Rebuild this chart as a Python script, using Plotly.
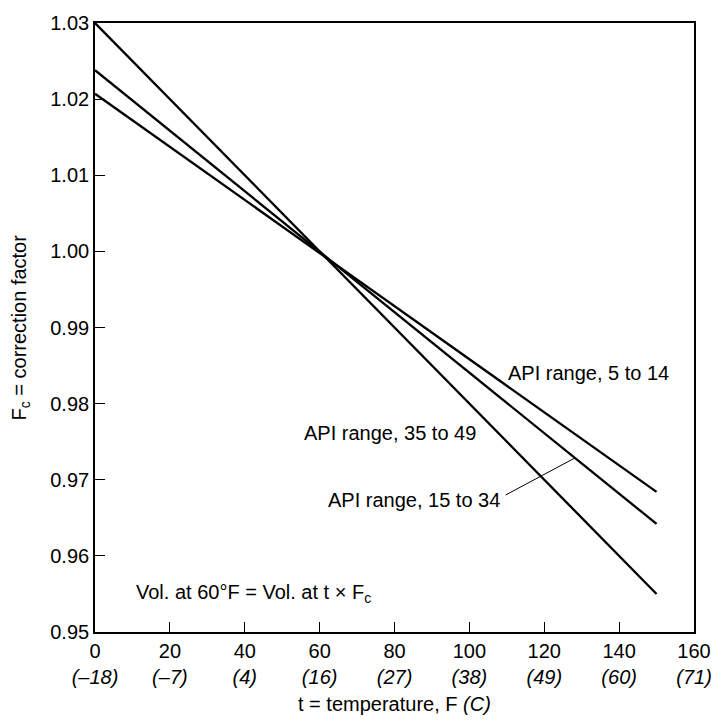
import numpy as np
import plotly.graph_objects as go

# temperature, F (line end points)
temp_f = [0, 150]

# correction factor Fc at each end
fc_api_35_49 = [1.030, 0.955]
fc_api_15_34 = [1.0238, 0.9642]
fc_api_5_14 = [1.0207, 0.9684]

x_ticks = [0, 20, 40, 60, 80, 100, 120, 140, 160]
x_ticks_c = ["–18", "–7", "4", "16", "27", "38", "49", "60", "71"]
y_ticks = [0.95, 0.96, 0.97, 0.98, 0.99, 1.00, 1.01, 1.02, 1.03]

FONT = "Liberation Sans, Arial, Helvetica, sans-serif"
FS = 20
line_style = dict(color="black", width=2.3)

fig = go.Figure()
for ys in (fc_api_35_49, fc_api_15_34, fc_api_5_14):
    fig.add_trace(go.Scatter(x=temp_f, y=ys, mode="lines", line=line_style,
                             showlegend=False, hoverinfo="skip"))

labels = [
    ("API range, 5 to 14", 109.7, 0.984),
    ("API range, 35 to 49", 55.3, 0.9762),
    ("API range, 15 to 34", 61.6, 0.9673),
    ("Vol. at 60°F = Vol. at t × F<sub>c</sub>", 10.5, 0.955),
]
for txt, lx, ly in labels:
    fig.add_annotation(x=lx, y=ly, text=txt, showarrow=False,
                       xanchor="left", yanchor="middle",
                       font=dict(size=FS, color="black", family=FONT))

# leader from "15 to 34" label to its line
lead_x = 128.2
lead_y = float(np.interp(lead_x, temp_f, fc_api_15_34))
fig.add_shape(type="line", x0=109.7, y0=0.968, x1=lead_x, y1=lead_y,
              line=dict(color="black", width=1))

# axis titles
fig.add_annotation(x=0.5, y=0, xref="paper", yref="paper",
                   text="t = temperature, F <i>(C)</i>", showarrow=False,
                   yshift=-72, yanchor="middle",
                   font=dict(size=FS, color="black", family=FONT))
fig.add_annotation(x=0, y=0.5, xref="paper", yref="paper",
                   text="F<sub>c</sub> = correction factor", showarrow=False,
                   textangle=-90, xshift=-75, xanchor="center",
                   font=dict(size=FS, color="black", family=FONT))

fig.update_xaxes(range=[0, 160], tickvals=x_ticks,
                 ticktext=[f"{t}<br><i>({c})</i>" for t, c in zip(x_ticks, x_ticks_c)],
                 ticks="inside", ticklen=10, tickwidth=1.3, tickcolor="black",
                 showline=True, linecolor="black", linewidth=1.6, mirror=True,
                 showgrid=False, zeroline=False)
fig.update_yaxes(range=[0.95, 1.03], tickvals=y_ticks,
                 ticktext=[f"{v:.2f}" for v in y_ticks],
                 ticks="inside", ticklen=10, tickwidth=1.3, tickcolor="black",
                 showline=True, linecolor="black", linewidth=1.6, mirror=True,
                 showgrid=False, zeroline=False)

fig.update_layout(
    width=724, height=721,
    margin=dict(l=95, r=21, t=13, b=89),
    plot_bgcolor="white", paper_bgcolor="white",
    font=dict(family=FONT, size=FS, color="black"),
)

fig.write_html("out.html", config={"displayModeBar": False},
               post_script="document.body.style.margin='0';")
